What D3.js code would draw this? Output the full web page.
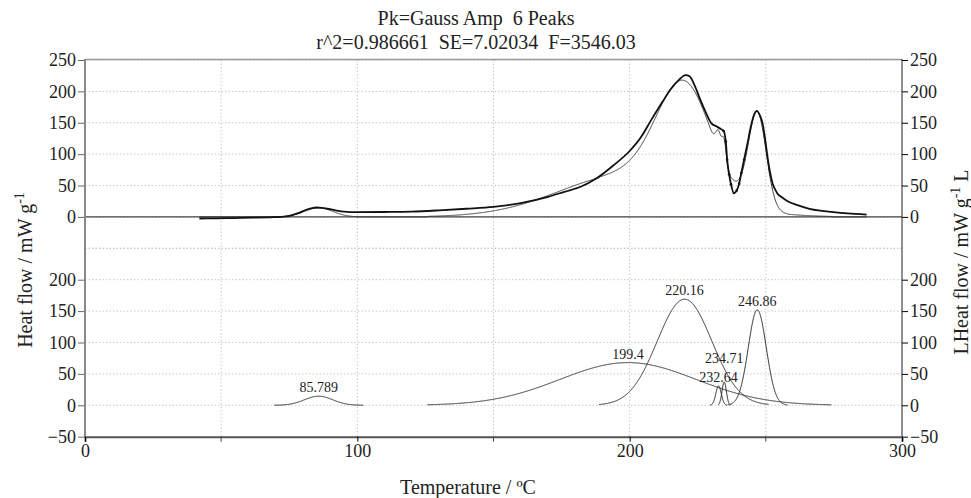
<!DOCTYPE html>
<html lang="en">
<head>
  <meta charset="UTF-8">
  <title>Gauss peak fit</title>
  <script src="https://d3js.org/d3.v7.min.js"></script>
  <style>
    body { margin: 0; background: #fff; }
    text { font-family: 'Liberation Serif', 'Times New Roman', serif; fill: #222; }
    .grid line { stroke: #c8c8c8; stroke-width: 1px; stroke-dasharray: 1.5,2; }
    .tick text { font-size: 18px; }
  </style>
</head>
<body>
<script>
  const dataT = [42, 48, 55, 62, 68, 72, 75, 78, 81, 83, 85, 87, 89, 92, 95, 100,
    110, 120, 130, 140, 150, 160, 170, 176, 182, 188, 194, 200, 204, 208, 212, 215,
    218, 220.5, 222, 224, 226, 228, 230, 232, 233.5, 234.5, 235.3, 235.8, 236.5,
    237.2, 238.3, 239.3, 240.2, 241, 242, 243.3, 244.5, 245.7, 246.7, 247.7, 248.8,
    249.8, 250.6, 251.5, 252.5, 253.5, 254.3, 256, 258, 261.6, 266, 270, 274, 280, 287];
  const dataY = [-2.5, -2.2, -1.8, -1.2, -0.6, 0, 1.5, 5.5, 11, 13.5, 15, 14.5, 13,
    10.5, 8.5, 7.5, 7.8, 8.5, 10.5, 13, 16, 22, 32, 40, 48, 62, 82, 105, 126, 155,
    183, 203, 218, 226, 224, 208, 186, 166, 149, 144, 140, 137, 120, 91, 68, 52, 38,
    42, 53, 70, 91, 118, 144, 163, 169, 163, 149, 122, 96, 72, 53, 43, 37, 31, 25,
    18.7, 13, 10, 8, 5.5, 3.8];

  // Fitted Gauss peaks: centre, amplitude, width, drawn range
  const peakCenter = [85.789, 199.4, 220.16, 232.64, 234.71, 246.86];
  const peakAmp    = [14.5, 68, 169, 31, 37, 152];
  const peakWidth  = [5.2, 25, 10, 1, 0.8, 3.3];
  const peakLo     = [69.5, 125.7, 188.7, 229.5, 232.5, 235.9];
  const peakHi     = [102.2, 274, 251, 235.7, 237, 258];

  const xTicks = [0, 100, 200, 300];
  const xMinor = [50, 150, 250];
  const topTicks = [0, 50, 100, 150, 200, 250];
  const bottomTicks = [-50, 0, 50, 100, 150, 200];
  const gridY = [-50, 0, 50, 100, 150, 200, 250];

  const W = 971, H = 498;
  const svg = d3.select("body").append("svg")
    .attr("width", W)
    .attr("height", H);

  const x = d3.scaleLinear().domain([0, 300]).range([85, 902]);
  const yTop = d3.scaleLinear().domain([-50, 250]).range([248.3, 60]);
  const yBot = d3.scaleLinear().domain([-50, 250]).range([436.7, 248.3]);

  // gaussian value of peak i at t (0 outside its drawn range)
  function peakAt(i, t) {
    if (t < peakLo[i] || t > peakHi[i]) return 0;
    const z = (t - peakCenter[i]) / peakWidth[i];
    return peakAmp[i] * Math.exp(-0.5 * z * z);
  }

  // grid
  const grid = svg.append("g").attr("class", "grid");
  grid.selectAll(".gx").data(xMinor.concat([100, 200]))
    .enter().append("line")
    .attr("x1", d => x(d)).attr("x2", d => x(d))
    .attr("y1", 60).attr("y2", 436.7);
  [yTop, yBot].forEach(y => {
    grid.selectAll(null).data(gridY)
      .enter().append("line")
      .attr("x1", 85).attr("x2", 902)
      .attr("y1", d => y(d)).attr("y2", d => y(d));
  });

  // solid zero line of the upper panel
  svg.append("line")
    .attr("x1", 85).attr("x2", 902)
    .attr("y1", yTop(0)).attr("y2", yTop(0))
    .attr("stroke", "#444").attr("stroke-width", 1.2);

  // top border
  svg.append("line")
    .attr("x1", 85).attr("x2", 902).attr("y1", 59.5).attr("y2", 59.5)
    .attr("stroke", "#999").attr("stroke-width", 1.5);

  // fit curve = sum of peaks, upper panel
  const fitT = d3.range(42, 287.01, 0.1);
  const line = (y) => d3.line().x(d => x(d[0])).y(d => y(d[1]));
  svg.append("path")
    .datum(fitT.map(t => [t, d3.sum(peakCenter, (c, i) => peakAt(i, t))]))
    .attr("d", line(yTop))
    .attr("fill", "none").attr("stroke", "#333").attr("stroke-width", 1);

  // measured trace
  const pts = dataT.map((t, i) => [t, dataY[i]]);
  svg.append("path")
    .datum(pts)
    .attr("d", line(yTop).curve(d3.curveMonotoneX))
    .attr("fill", "none").attr("stroke", "#111").attr("stroke-width", 1.8);
  svg.selectAll(".pt").data(pts.filter(d => d[0] > 234 && d[0] < 243))
    .enter().append("circle")
    .attr("cx", d => x(d[0])).attr("cy", d => yTop(d[1]))
    .attr("r", 1.3).attr("fill", "#111");

  // individual peaks, lower panel
  const labels = [];
  peakCenter.forEach((c, i) => {
    const ts = d3.range(peakLo[i], peakHi[i] + 0.001, 0.05);
    svg.append("path")
      .datum(ts.map(t => [t, peakAt(i, t)]))
      .attr("d", line(yBot))
      .attr("fill", "none").attr("stroke", "#222").attr("stroke-width", 1);

    // label above the peak, bumped up if it would hit the previous one
    let ly = yBot(peakAmp[i]) - 4;
    const prev = labels[labels.length - 1];
    if (prev && Math.abs(x(c) - prev.x) < 40 && Math.abs(ly - prev.y) < 16) ly = prev.y - 19;
    labels.push({ x: x(c), y: ly });
    svg.append("text")
      .attr("x", x(c)).attr("y", ly)
      .attr("text-anchor", "middle")
      .style("font-size", "14px")
      .text(c);
  });

  // axes
  const left = svg.append("g");
  left.append("g").attr("transform", "translate(85,0)")
    .call(d3.axisLeft(yTop).tickValues(topTicks).tickSize(7).tickPadding(2));
  left.append("g").attr("transform", "translate(85,0)")
    .call(d3.axisLeft(yBot).tickValues(bottomTicks).tickSize(7).tickPadding(2));
  left.selectAll(".domain").remove();
  left.append("line")
    .attr("x1", 85).attr("x2", 85).attr("y1", 59).attr("y2", 437.5)
    .attr("stroke", "#888").attr("stroke-width", 2);
  left.selectAll(".tick line").attr("stroke", "#666");

  const right = svg.append("g");
  right.append("g").attr("transform", "translate(902,0)")
    .call(d3.axisRight(yTop).tickValues(topTicks).tickSize(6).tickPadding(2));
  right.append("g").attr("transform", "translate(902,0)")
    .call(d3.axisRight(yBot).tickValues(bottomTicks).tickSize(6).tickPadding(2));
  right.selectAll(".domain").remove();
  right.append("line")
    .attr("x1", 902).attr("x2", 902).attr("y1", 59).attr("y2", 437.5)
    .attr("stroke", "#222").attr("stroke-width", 1);

  const bottom = svg.append("g").attr("transform", "translate(0,436.7)");
  bottom.call(d3.axisBottom(x).tickValues(xTicks).tickSize(5).tickPadding(3).tickFormat(d3.format("d")));
  bottom.selectAll(null).data(xMinor).enter().append("line")
    .attr("x1", d => x(d)).attr("x2", d => x(d)).attr("y1", 0).attr("y2", 5)
    .attr("stroke", "#444");
  bottom.select(".domain").attr("stroke", "#555").attr("stroke-width", 2);
  svg.selectAll(".tick text").attr("fill", "#222");

  // titles
  svg.append("text").attr("x", 476).attr("y", 25)
    .attr("text-anchor", "middle").style("font-size", "20px")
    .text("Pk=Gauss Amp  6 Peaks").attr("xml:space", "preserve");
  svg.append("text").attr("x", 476).attr("y", 49)
    .attr("text-anchor", "middle").style("font-size", "20px")
    .attr("xml:space", "preserve")
    .text("r^2=0.986661  SE=7.02034  F=3546.03");

  svg.append("text").attr("x", 468).attr("y", 494)
    .attr("text-anchor", "middle").style("font-size", "20px")
    .text("Temperature / \u00baC");

  // rotated axis titles with superscript -1
  function yTitle(tx, ty, pre, post) {
    const t = svg.append("text")
      .attr("transform", `translate(${tx},${ty}) rotate(-90)`)
      .attr("text-anchor", "middle").style("font-size", "20px");
    t.append("tspan").text(pre);
    t.append("tspan").attr("dy", -8).style("font-size", "14px").text("-1");
    t.append("tspan").attr("dy", 8).text(post);
  }
  yTitle(32, 270, "Heat flow / mW g", "");
  yTitle(968, 262, "LHeat flow / mW g", " L");
</script>
</body>
</html>
